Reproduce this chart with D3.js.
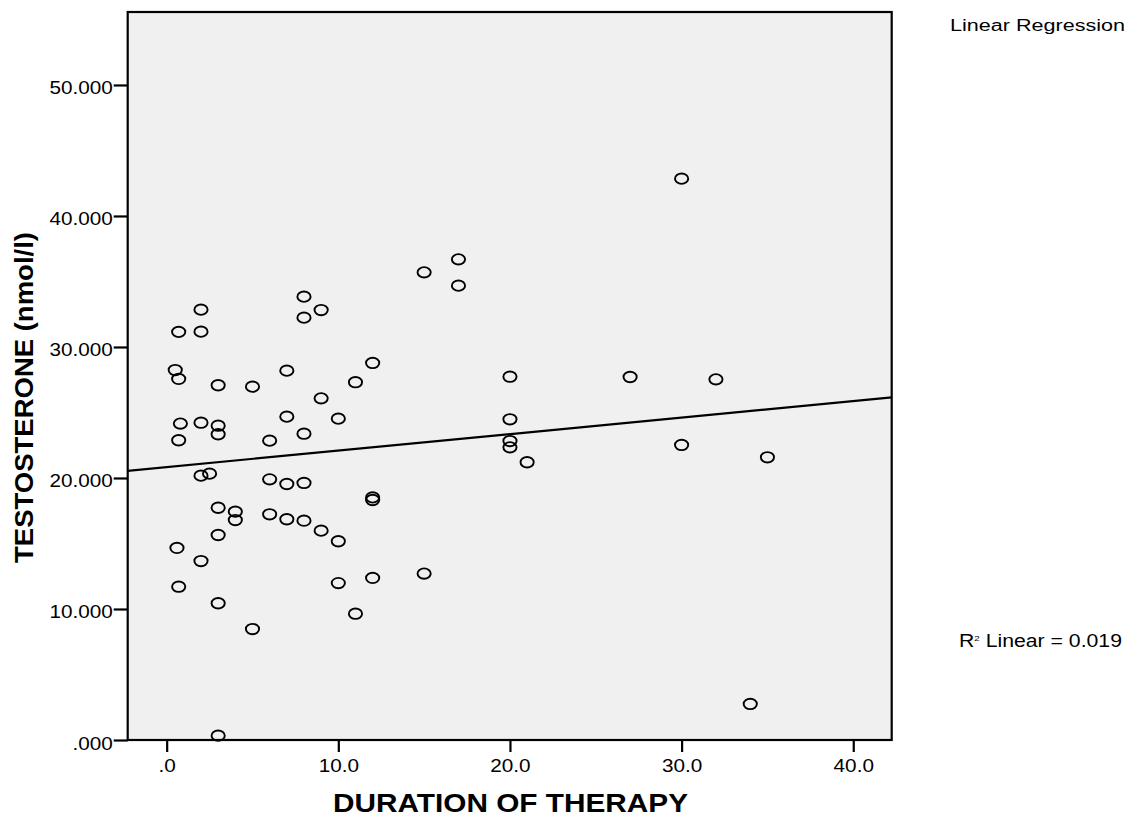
<!DOCTYPE html>
<html>
<head>
<meta charset="utf-8">
<script src="https://cdn.jsdelivr.net/npm/d3@7"></script>
<style>
  body { margin: 0; background: #fff; }
  svg { display: block; font-family: "Liberation Sans", Arial, sans-serif; }
</style>
</head>
<body>
<svg id="chart" width="1130" height="817"></svg>
<script>
// Values
const duration = [2, 0.7, 2, 8, 9, 8, 0.5, 0.7, 3, 5, 7, 12, 11, 9, 0.8, 2, 3, 3, 0.7, 7, 10, 8, 6,
    2, 2.5, 6, 7, 8, 12, 12, 3, 4, 4, 6, 7, 8, 9, 10, 3, 0.6, 2, 0.7, 3, 5, 10, 12, 11, 3,
    15, 17, 17, 20, 20, 20, 20, 21, 15, 27, 32, 30, 35, 34, 30];
const testosterone = [32.85, 31.15, 31.17, 33.84, 32.82, 32.24, 28.24, 27.56, 27.08, 26.97, 28.19, 28.78,
    27.31, 26.08, 24.15, 24.22, 23.99, 23.34, 22.88, 24.68, 24.53, 23.38, 22.85, 20.18, 20.33, 19.90,
    19.54, 19.62, 18.52, 18.32, 17.73, 17.43, 16.79, 17.23, 16.85, 16.74, 15.98, 15.17, 15.65, 14.66,
    13.66, 11.70, 10.44, 8.47, 11.98, 12.37, 9.64, 0.33,
    35.7, 36.69, 34.68, 27.73, 24.48, 22.82, 22.34, 21.2, 12.7, 27.71, 27.53, 22.52, 21.58, 2.75, 42.85];
const xTicks = [0, 10, 20, 30, 40];
const yTicks = [0, 10, 20, 30, 40, 50];
const xDomain = [-2.27, 42.24];
const yDomain = [0, 55.57];
const r2Text = "0.019";

const svg = d3.select("#chart");
const plot = {left: 127.7, right: 891.7, top: 12, bottom: 740};

const x = d3.scaleLinear().domain(xDomain).range([plot.left, plot.right]);
const y = d3.scaleLinear().domain(yDomain).range([plot.bottom, plot.top]);

// stretch text horizontally a bit, the source image is wider than tall
function stretch(sel, k) {
    sel.each(function() {
        const len = this.getComputedTextLength();
        d3.select(this).attr("textLength", len * k).attr("lengthAdjust", "spacingAndGlyphs");
    });
}

svg.append("rect")
    .attr("x", plot.left).attr("y", plot.top)
    .attr("width", plot.right - plot.left).attr("height", plot.bottom - plot.top)
    .attr("fill", "#f0f0f0");

// strip leading zero like SPSS does
const trim = s => s.replace(/^0\./, ".");

const xAxis = svg.append("g")
    .attr("transform", `translate(0,${plot.bottom})`)
    .call(d3.axisBottom(x).tickValues(xTicks).tickSize(12).tickPadding(7)
        .tickFormat(d => trim(d3.format(".1f")(d))));
const yAxis = svg.append("g")
    .attr("transform", `translate(${plot.left},0)`)
    .call(d3.axisLeft(y).tickValues(yTicks).tickSize(14).tickPadding(1)
        .tickFormat(d => trim(d3.format(".3f")(d))));

[xAxis, yAxis].forEach(a => {
    a.select(".domain").remove();
    a.selectAll(".tick line").attr("stroke", "#000").attr("stroke-width", 2.2);
    a.selectAll(".tick text")
        .attr("fill", "#000")
        .style("font-size", "18px")
        .call(stretch, 1.15);
});
yAxis.selectAll(".tick text").attr("dy", "0.5em");

// regression line (least squares on the points)
const mx = d3.mean(duration), my = d3.mean(testosterone);
let sxy = 0, sxx = 0;
duration.forEach((d, i) => {
    sxy += (d - mx) * (testosterone[i] - my);
    sxx += (d - mx) * (d - mx);
});
const slope = sxy / sxx;
const intercept = my - slope * mx;

svg.append("line")
    .attr("x1", x(xDomain[0])).attr("y1", y(intercept + slope * xDomain[0]))
    .attr("x2", x(xDomain[1])).attr("y2", y(intercept + slope * xDomain[1]))
    .attr("stroke", "#000").attr("stroke-width", 2.2);

svg.append("g").selectAll("ellipse")
    .data(duration.map((d, i) => ({x: d, y: testosterone[i]})))
    .join("ellipse")
    .attr("cx", d => x(d.x))
    .attr("cy", d => y(d.y))
    .attr("rx", 6.6).attr("ry", 5.2)
    .attr("fill", "none")
    .attr("stroke", "#000")
    .attr("stroke-width", 1.9);

// frame
svg.append("rect")
    .attr("x", plot.left).attr("y", plot.top)
    .attr("width", plot.right - plot.left).attr("height", plot.bottom - plot.top)
    .attr("fill", "none").attr("stroke", "#000").attr("stroke-width", 2.2);

// axis titles
svg.append("text")
    .attr("x", 333).attr("y", 812)
    .style("font-size", "25px").style("font-weight", "bold")
    .attr("textLength", 355).attr("lengthAdjust", "spacingAndGlyphs")
    .text("DURATION OF THERAPY");

svg.append("text")
    .attr("transform", "translate(33,563) rotate(-90)")
    .style("font-size", "25px").style("font-weight", "bold")
    .attr("textLength", 331).attr("lengthAdjust", "spacingAndGlyphs")
    .text("TESTOSTERONE (nmol/l)");

svg.append("text")
    .attr("x", 950).attr("y", 31)
    .style("font-size", "16px")
    .attr("textLength", 175).attr("lengthAdjust", "spacingAndGlyphs")
    .text("Linear Regression");

const r2 = svg.append("text")
    .attr("x", 959).attr("y", 647)
    .style("font-size", "17.5px");
r2.append("tspan").text("R");
r2.append("tspan").attr("dy", -6).style("font-size", "8px").text("2");
r2.append("tspan").attr("dy", 6).text(" Linear = " + r2Text);
r2.attr("textLength", 163).attr("lengthAdjust", "spacingAndGlyphs");
</script>
</body>
</html>
